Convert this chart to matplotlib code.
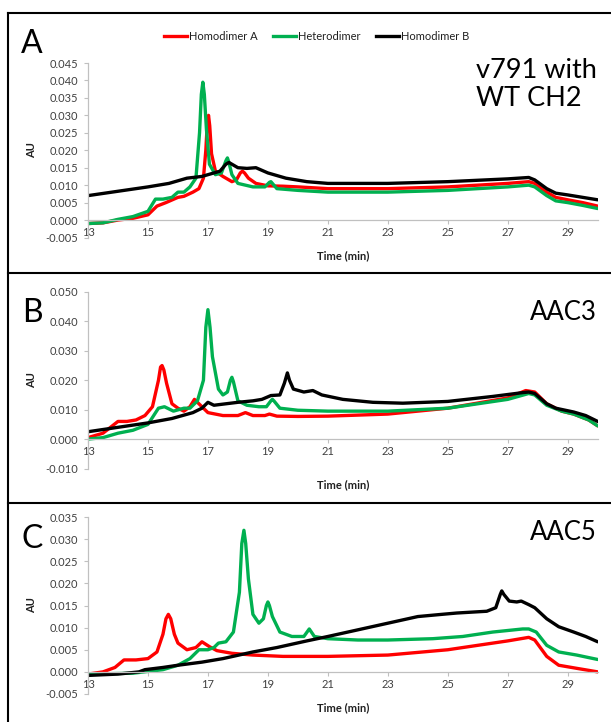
#! /usr/bin/env python3
# coding: utf-8

"""
    Chromatogrammes (AU vs temps) pour trois constructions :
        A - v791 with WT CH2
        B - AAC3
        C - AAC5
"""

import matplotlib
matplotlib.use("Agg")
import matplotlib.pyplot as plt
from matplotlib.lines import Line2D
from matplotlib.ticker import FormatStrFormatter

plt.rcParams['font.family'] = ['Lato', 'DejaVu Sans']
plt.rcParams['axes.unicode_minus'] = False

W, H = 611, 722

########################################################################################################################
#             Données                                                                               #
########################################################################################################################
# Panel A
a_red_t = [13, 13.5, 14, 14.5, 15.0, 15.3, 15.6, 16.0, 16.2, 16.5, 16.7, 16.85, 16.93, 16.98, 17.02, 17.06, 17.12,
           17.25, 17.5, 17.8, 17.95, 18.08, 18.15, 18.22, 18.35, 18.6, 19.0, 19.5, 20, 21, 23, 25, 27, 27.7, 27.9,
           28.3, 28.6, 29, 29.5, 30]
a_red_v = [-0.001, -0.0008, 0.0, 0.0005, 0.0015, 0.004, 0.005, 0.0065, 0.0068, 0.008, 0.009, 0.012, 0.020, 0.028,
           0.030, 0.027, 0.019, 0.014, 0.0125, 0.011, 0.0115, 0.0135, 0.014, 0.0135, 0.012, 0.0105, 0.0098, 0.0097,
           0.0095, 0.009, 0.009, 0.0095, 0.0105, 0.011, 0.0105, 0.008, 0.0065, 0.0058, 0.005, 0.004]

a_green_t = [13, 13.5, 14, 14.5, 15.0, 15.25, 15.5, 15.8, 16.0, 16.2, 16.4, 16.6, 16.72, 16.78, 16.83, 16.88, 16.95,
             17.05, 17.25, 17.45, 17.6, 17.65, 17.7, 17.8, 18.0, 18.5, 18.9, 19.05, 19.1, 19.15, 19.3, 20, 21, 23,
             25, 27, 27.7, 27.9, 28.3, 28.6, 29, 29.5, 30]
a_green_v = [-0.001, -0.0008, 0.0002, 0.001, 0.0025, 0.006, 0.006, 0.0065, 0.008, 0.008, 0.0095, 0.012, 0.025,
             0.036, 0.0395, 0.036, 0.026, 0.016, 0.013, 0.0135, 0.017, 0.0178, 0.0165, 0.013, 0.0105, 0.0095, 0.0095,
             0.0108, 0.011, 0.0105, 0.009, 0.0085, 0.008, 0.008, 0.0085, 0.0095, 0.010, 0.0095, 0.007, 0.0055, 0.005,
             0.0042, 0.0033]

a_black_t = [13, 15, 15.7, 16.3, 16.8, 17.2, 17.4, 17.6, 17.7, 17.8, 18.0, 18.3, 18.6, 19, 19.6, 20.3, 21, 23, 25,
             27, 27.7, 27.9, 28.3, 28.6, 29, 29.5, 30]
a_black_v = [0.007, 0.0095, 0.0105, 0.012, 0.0125, 0.0135, 0.014, 0.016, 0.0165, 0.016, 0.015, 0.0148, 0.015, 0.0135,
             0.012, 0.011, 0.0105, 0.0105, 0.011, 0.0118, 0.0122, 0.0115, 0.009, 0.0077, 0.0072, 0.0065, 0.0058]

# Panel B
b_red_t = [13, 13.5, 14.0, 14.3, 14.6, 14.9, 15.15, 15.35, 15.42, 15.47, 15.53, 15.62, 15.8, 16.0, 16.2, 16.4, 16.55,
           16.75, 17.0, 17.5, 18.0, 18.25, 18.5, 18.9, 19.05, 19.3, 20, 21, 23, 25, 27, 27.6, 27.9, 28.3, 28.8,
           29.2, 29.7, 30]
b_red_v = [0.0005, 0.002, 0.006, 0.006, 0.0065, 0.008, 0.011, 0.020, 0.0245, 0.025, 0.0235, 0.019, 0.012, 0.0105,
           0.0095, 0.011, 0.0135, 0.0115, 0.009, 0.008, 0.008, 0.009, 0.008, 0.008, 0.0085, 0.0078, 0.0077, 0.0078,
           0.0085, 0.0105, 0.014, 0.0165, 0.016, 0.012, 0.0095, 0.0085, 0.0065, 0.0045]

b_green_t = [13, 13.5, 14, 14.5, 15.0, 15.35, 15.55, 15.85, 16.2, 16.4, 16.65, 16.85, 16.93, 17.0, 17.07, 17.15,
             17.35, 17.5, 17.65, 17.75, 17.8, 17.85, 18.0, 18.3, 18.7, 18.95, 19.1, 19.15, 19.2, 19.4, 20, 21, 23,
             25, 27, 27.7, 27.9, 28.3, 28.8, 29.2, 29.7, 30]
b_green_v = [0.0, 0.0005, 0.002, 0.003, 0.005, 0.0105, 0.011, 0.0095, 0.0105, 0.0105, 0.013, 0.020, 0.038, 0.044,
             0.038, 0.028, 0.017, 0.015, 0.016, 0.020, 0.021, 0.0195, 0.013, 0.0115, 0.011, 0.011, 0.013, 0.0135,
             0.013, 0.0105, 0.0098, 0.0095, 0.0095, 0.0105, 0.0135, 0.0155, 0.015, 0.0115, 0.0095, 0.0085, 0.0065,
             0.0045]

b_black_t = [13, 14, 15, 15.8, 16.5, 16.8, 17.0, 17.2, 17.6, 18.0, 18.5, 18.8, 19.1, 19.4, 19.55, 19.65, 19.72,
             19.85, 20.2, 20.5, 20.8, 21.5, 22.5, 23.5, 25, 26.5, 27.5, 27.7, 27.9, 28.3, 28.6, 29.2, 29.6, 30]
b_black_v = [0.0025, 0.004, 0.0055, 0.007, 0.009, 0.0105, 0.0125, 0.0115, 0.012, 0.0125, 0.013, 0.0135, 0.0148,
             0.015, 0.019, 0.0225, 0.020, 0.017, 0.016, 0.0165, 0.015, 0.0135, 0.0125, 0.0122, 0.0128, 0.0145,
             0.0158, 0.016, 0.0155, 0.012, 0.0105, 0.0092, 0.008, 0.006]

# Panel C
c_red_t = [13, 13.5, 13.9, 14.2, 14.6, 15.0, 15.3, 15.5, 15.6, 15.68, 15.76, 15.88, 16.0, 16.3, 16.6, 16.8, 17.05,
           17.3, 17.8, 18.5, 19.5, 21, 23, 25, 27, 27.7, 27.9, 28.3, 28.7, 29.3, 30]
c_red_v = [-0.0005, 0.0, 0.001, 0.0027, 0.0027, 0.003, 0.0045, 0.0085, 0.012, 0.013, 0.012, 0.0085, 0.0065, 0.005,
           0.0055, 0.0068, 0.0057, 0.0048, 0.0042, 0.0038, 0.0035, 0.0035, 0.0038, 0.005, 0.007, 0.0078, 0.0072,
           0.0035, 0.0015, 0.0008, 0.0]

c_green_t = [13, 14.5, 15.5, 16.0, 16.4, 16.7, 17.0, 17.2, 17.35, 17.6, 17.85, 18.05, 18.13, 18.2, 18.26, 18.35,
             18.5, 18.7, 18.85, 18.95, 19.0, 19.05, 19.15, 19.4, 19.8, 20.2, 20.38, 20.55, 21, 22, 23, 24.5, 25.5,
             26.5, 27.5, 27.7, 27.95, 28.3, 28.7, 29.3, 30]
c_green_v = [-0.0005, -0.0003, 0.0005, 0.0015, 0.003, 0.005, 0.005, 0.0055, 0.0065, 0.0068, 0.009, 0.018, 0.029,
             0.032, 0.029, 0.021, 0.013, 0.011, 0.012, 0.015, 0.0158, 0.015, 0.0125, 0.009, 0.008, 0.008, 0.0097,
             0.008, 0.0075, 0.0072, 0.0072, 0.0075, 0.008, 0.009, 0.0097, 0.0097, 0.009, 0.006, 0.0045, 0.0038,
             0.0028]

c_black_t = [13, 14, 14.7, 14.9, 15.5, 16, 16.8, 17.5, 18.5, 19.3, 20.3, 21, 22, 23, 24, 24.8, 25.3, 25.8, 26.3,
             26.6, 26.75, 26.8, 26.87, 27.05, 27.3, 27.45, 27.7, 27.9, 28.3, 28.7, 29.2, 29.6, 30]
c_black_v = [-0.0008, -0.0005, 0.0, 0.0005, 0.001, 0.0015, 0.0022, 0.003, 0.0045, 0.0055, 0.007, 0.008, 0.0095,
             0.011, 0.0125, 0.013, 0.0133, 0.0135, 0.0137, 0.0145, 0.0175, 0.0183, 0.0175, 0.016, 0.0158, 0.016,
             0.0152, 0.0145, 0.012, 0.0102, 0.009, 0.008, 0.0068]

series_labels = ["Homodimer A", "Heterodimer", "Homodimer B"]
series_colors = ["#ff0000", "#00b050", "#000000"]
x_ticks = [13, 15, 17, 19, 21, 23, 25, 27, 29]


########################################################################################################################
#             Tracé                                                                                                    #
########################################################################################################################
def fx(px):
    return px / W


def fy(py):
    return 1 - py / H


def panneau(rect, data, y_lim, y_step, label_y):
    ax = fig.add_axes(rect)
    # ordre Excel : rouge, vert, puis noir par-dessus
    for (t, v), col in zip(data, series_colors):
        ax.plot(t, v, color=col, lw=2.4, solid_joinstyle='round', solid_capstyle='round')
    ax.set_xlim(13, 30)
    ax.set_ylim(*y_lim)
    ax.set_xticks(x_ticks)
    n = int(round((y_lim[1] - y_lim[0]) / y_step))
    ax.set_yticks([y_lim[0] + i * y_step for i in range(n + 1)])
    ax.yaxis.set_major_formatter(FormatStrFormatter('%.3f'))
    for s in ['top', 'right']:
        ax.spines[s].set_visible(False)
    ax.spines['bottom'].set_position(('data', 0))
    for s in ['left', 'bottom']:
        ax.spines[s].set_color('#c0c0c0')
        ax.spines[s].set_linewidth(0.9)
    ax.tick_params(axis='both', colors='#c0c0c0', labelcolor='#404040', labelsize=8, length=3, width=0.8)
    ax.tick_params(axis='y', pad=4)
    ax.tick_params(axis='x', pad=2)
    ax.set_ylabel('AU', fontsize=8, fontweight='bold', color='#202020')
    ax.yaxis.set_label_coords(-0.10, 0.5)
    ax.set_xlabel('Time (min)', fontsize=8, fontweight='bold', color='#202020')
    ax.xaxis.set_label_coords(0.5, label_y)
    return ax


fig = plt.figure(figsize=(W / 100, H / 100), dpi=100)

left, width = fx(88), (597.7 - 88) / W

axA = panneau([left, fy(237.5), width, (237.5 - 63) / H],
              [(a_red_t, a_red_v), (a_green_t, a_green_v), (a_black_t, a_black_v)],
              (-0.005, 0.045), 0.005, -0.075)
axB = panneau([left, fy(468.5), width, (468.5 - 292) / H],
              [(b_red_t, b_red_v), (b_green_t, b_green_v), (b_black_t, b_black_v)],
              (-0.010, 0.050), 0.010, -0.06)
axC = panneau([left, fy(694), width, (694 - 517) / H],
              [(c_red_t, c_red_v), (c_green_t, c_green_v), (c_black_t, c_black_v)],
              (-0.005, 0.035), 0.005, -0.045)

# légende (panneau A seulement)
handles = [Line2D([], [], color=c, lw=2.4) for c in series_colors]
fig.legend(handles, series_labels, loc='center', bbox_to_anchor=(fx(316.5), fy(36.7)), ncol=3, frameon=False,
           fontsize=8, handlelength=2.1, handletextpad=0.15, columnspacing=1.4, labelcolor='#202020')

# lettres et titres
fig.text(fx(32), fy(53), 'A', fontsize=23, ha='center', va='baseline')
fig.text(fx(32), fy(322), 'B', fontsize=23, ha='center', va='baseline')
fig.text(fx(32), fy(548), 'C', fontsize=23, ha='center', va='baseline')
fig.text(fx(476), fy(78), 'v791 with', fontsize=19.5, ha='left', va='baseline')
fig.text(fx(476), fy(106), 'WT CH2', fontsize=19.5, ha='left', va='baseline')
fig.text(fx(597), fy(320), 'AAC3', fontsize=18.5, ha='right', va='baseline')
fig.text(fx(597), fy(540), 'AAC5', fontsize=18.5, ha='right', va='baseline')

# cadres
for (x0, y0, x1, y1) in [(8, 13, W, 13), (8, 13, 8, H), (8, 273, W, 273), (8, 503, W, 503)]:
    fig.add_artist(Line2D([fx(x0), fx(x1)], [fy(y0), fy(y1)], color='black', lw=1.5, transform=fig.transFigure))

fig.savefig('out.png', dpi=100)
